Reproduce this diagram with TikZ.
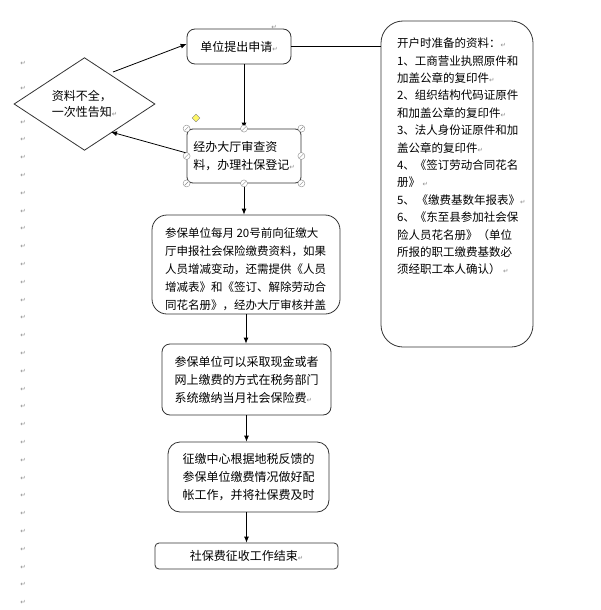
\documentclass[tikz,border=0pt]{standalone}
\usepackage{fontspec}
\newfontfamily\cjk{Noto Sans CJK SC}
\newfontfamily\dejavu{DejaVu Sans}
\usetikzlibrary{shapes.geometric,arrows.meta}
\newcommand{\parmark}{{\dejavu\fontsize{6.5}{6.5}\selectfont\color{black!45}↵}}

\begin{document}
\begin{tikzpicture}[x=1pt,y=-1pt,
    flowbox/.style={draw=black!80,line width=0.8pt,fill=white,rounded corners=#1,
        inner sep=0pt,align=left,font=\cjk\fontsize{12}{18}\selectfont},
    flowbox/.default=8pt,
    flowarrow/.style={line width=0.8pt,-{Latex[length=6pt,width=5pt]}},
    handle/.style={circle,draw=black!45,fill=white,inner sep=0pt,minimum size=7pt,
        path picture={\draw[black!45] ([shift={(1.5pt,1.5pt)}]path picture bounding box.south west)
        -- ([shift={(-1.5pt,-1.5pt)}]path picture bounding box.north east);}},
    margin/.style={inner sep=0pt}]
    \fill[white] (0,0) rectangle (600,610);
    \useasboundingbox (0,0) rectangle (600,610);
    % paragraph marks down the left margin
    \foreach \y in {63,88} \node[margin] (mark\y) at (23,\y) {\parmark};
    \foreach \k in {0,...,27} \node[margin] (row\k) at (23,{122+17.8*\k}) {\parmark};
    \node[margin] (topmark) at (274,27) {\parmark};
    %left branch
    \node[diamond,draw=black!80,line width=0.8pt,fill=white,minimum width=141pt,minimum height=84pt,
        inner sep=0pt,align=left,font=\cjk\fontsize{12}{16}\selectfont] (notice) at (84.5,104)
        {资料不全，\\一次性告知\parmark};
    %main column
    \node[flowbox,minimum width=104pt,minimum height=35pt] (apply) at (239,46.5) {单位提出申请\parmark};
    \node[flowbox=6pt,minimum width=114pt,minimum height=54pt] (review) at (244,156)
        {经办大厅审查资\\料，办理社保登记\parmark};
    \node[flowbox=15pt,minimum width=188pt,minimum height=99pt] (declare) at (246,264.5)
        {\parbox[c][99pt][t]{162pt}{\fontsize{11.5}{18}\selectfont\vspace*{13pt}%
        参保单位每月 20号前向征缴大\\
        厅申报社会保险缴费资料，如果\\
        人员增减变动，还需提供《人员\\
        增减表》和《签订、解除劳动合\\
        同花名册》，经办大厅审核并盖}};
    \node[flowbox,minimum width=169pt,minimum height=71pt] (pay) at (246.5,379.5)
        {参保单位可以采取现金或者\\网上缴费的方式在税务部门\\系统缴纳当月社会保险费\parmark};
    \node[flowbox=12pt,minimum width=161pt,minimum height=70pt] (reconcile) at (248.5,477)
        {征缴中心根据地税反馈的\\参保单位缴费情况做好配\\帐工作，并将社保费及时};
    \node[flowbox=4pt,minimum width=183pt,minimum height=26pt] (finish) at (246.5,556)
        {社保费征收工作结束\parmark};
    %materials list
    \node[flowbox=22pt,minimum width=152pt,minimum height=326pt] (materials) at (457,184)
        {\parbox[c][326pt][t]{120pt}{\fontsize{11.5}{17.4}\selectfont\vspace*{17pt}%
        开户时准备的资料：\parmark\\
        1、工商营业执照原件和\\
        加盖公章的复印件\parmark\\
        2、组织结构代码证原件\\
        和加盖公章的复印件\parmark\\
        3、法人身份证原件和加\\
        盖公章的复印件\parmark\\
        4、《签订劳动合同花名\\
        册》~\parmark\\
        5、~《缴费基数年报表》\parmark\\
        6、《东至县参加社会保\\
        险人员花名册》（单位\\
        所报的职工缴费基数必\\
        须经职工本人确认）~\parmark}};
    %connectors
    \coordinate (retry) at (113,72);
    \coordinate (backtip) at (111,132);
    \draw[line width=0.8pt] (apply.east) -- (apply.east -| materials.west);
    \draw[flowarrow] (retry) -- ([yshift=2.5pt]apply.west);
    \draw[flowarrow] ([yshift=3pt]review.west) -- (backtip);
    \draw[flowarrow] (review.north |- apply.south) -- (review.north);
    \draw[flowarrow] (review.south) -- (review.south |- declare.north);
    \draw[flowarrow] (declare.south) -- (declare.south |- pay.north);
    \draw[flowarrow] (pay.south) -- (pay.south |- reconcile.north);
    \draw[flowarrow] (reconcile.south -| pay.south) -- (pay.south |- finish.north);
    %selection handles
    \foreach \a in {north west,north,north east,west,east,south west,south,south east}
        \node[handle] (grip-\a) at (review.\a) {};
    \node[diamond,draw=black!50,fill=yellow!60,inner sep=0pt,minimum size=8pt] (adjust) at (196,118) {};
\end{tikzpicture}
\end{document}
